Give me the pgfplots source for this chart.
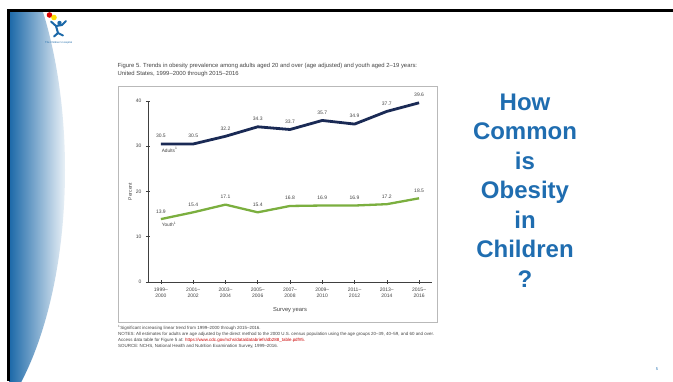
\documentclass[border=0pt]{standalone}
\usepackage{pgfplots}
\pgfplotsset{compat=1.18}
\usepackage{fontspec}
\setmainfont{Liberation Sans}
\definecolor{navy}{HTML}{1A2A55}
\definecolor{grn}{HTML}{7BAF3F}
\definecolor{ttl}{HTML}{1F6DB0}
\definecolor{gblue}{HTML}{1B68A8}
\definecolor{txt}{HTML}{444444}
\begin{document}
\begin{tikzpicture}[x=1pt,y=1pt]
\useasboundingbox (0,0) rectangle (673,381);
\fill[white] (0,0) rectangle (673,381);
% left gradient shape
\begin{scope}
\clip (9,0) rectangle (673,369);
\clip (-60,211) ellipse [x radius=125, y radius=279];
\shade[left color=gblue, right color=gblue!8] (9,0) rectangle (66,369);
\end{scope}
% black border
\fill[black] (7,369) rectangle (673,372);
\fill[black] (7,0) rectangle (9.5,372);
% logo
\fill[red!85!black] (49.5,366) circle (2.8);
\fill[yellow!80!orange] (54,363.5) circle (2.8);
\fill[gblue] (59.5,358) circle (2.2);
\draw[gblue, line width=2pt, line cap=round] (51,359.5) -- (56,355) -- (62,356) -- (66,360);
\draw[gblue, line width=2pt, line cap=round] (56,355) -- (58,348) -- (54,344.5);
\draw[gblue, line width=2pt, line cap=round] (58,348) -- (63,345.5);
\node[font=\fontsize{2.6}{3}\selectfont, text=gblue, anchor=west, inner sep=0] at (45,338) {The Children's Hospital};
% chart frame
\draw[gray!55, line width=0.6pt] (118,295) rectangle (437,59);
% figure title
\node[font=\fontsize{5.9}{7}\selectfont, text=txt, anchor=base west, inner sep=0] at (117.5,313) {Figure 5. Trends in obesity prevalence among adults aged 20 and over (age adjusted) and youth aged 2--19 years:};
\node[font=\fontsize{5.9}{7}\selectfont, text=txt, anchor=base west, inner sep=0] at (117.5,305) {United States, 1999--2000 through 2015--2016};
% footnotes
\node[font=\fontsize{4.45}{5}\selectfont, text=txt, anchor=base west, inner sep=0] at (118,51.5) {\textsuperscript{1}Significant increasing linear trend from 1999--2000 through 2015--2016.};
\node[font=\fontsize{4.45}{5}\selectfont, text=txt, anchor=base west, inner sep=0] at (118,45.5) {NOTES: All estimates for adults are age adjusted by the direct method to the 2000 U.S. census population using the age groups 20--39, 40--59, and 60 and over.};
\node[font=\fontsize{4.45}{5}\selectfont, text=txt, anchor=base west, inner sep=0] at (118,39.5) {Access data table for Figure 5 at: \textcolor{red!80!black}{https://www.cdc.gov/nchs/data/databriefs/db288\_table.pdf\#5.}};
\node[font=\fontsize{4.45}{5}\selectfont, text=txt, anchor=base west, inner sep=0] at (118,33.5) {SOURCE: NCHS, National Health and Nutrition Examination Survey, 1999--2016.};
% right title
\node[font=\fontsize{24}{29.5}\selectfont\bfseries, text=ttl, align=center, text width=150pt] at (525,190.5) {How\\Common\\is\\Obesity\\in\\Children\\?};
\node[font=\fontsize{4}{5}\selectfont, text=ttl] at (657,12) {5};
% the chart
\begin{axis}[
  at={(148pt,99pt)}, anchor=south west,
  scale only axis, width=284pt, height=181pt,
  xmin=-0.4, xmax=8.4, ymin=0, ymax=40,
  axis x line*=bottom, axis y line*=left,
  axis line style={black!75, line width=0.8pt},
  xtick={0,1,2,3,4,5,6,7,8},
  xticklabels={1999--\\2000,2001--\\2002,2003--\\2004,2005--\\2006,2007--\\2008,2009--\\2010,2011--\\2012,2013--\\2014,2015--\\2016},
  ytick={0,10,20,30,40},
  tick align=center, major tick length=4pt,
  tick style={black!75, line width=0.6pt},
  /pgf/number format/assume math mode=true,
  ticklabel style={font=\fontsize{5}{6.5}\selectfont, text=txt},
  xticklabel style={align=center},
  yticklabel style={xshift=-1pt},
  xlabel={Survey years},
  xlabel style={at={(axis description cs:0.5,-0.155)}, anchor=center, font=\fontsize{5.8}{7}\selectfont, text=txt},
  ylabel={Percent},
  ylabel style={at={(axis description cs:-0.063,0.5)}, anchor=center, font=\fontsize{5}{6}\selectfont, text=txt},
  clip=false,
  nodes near coords={\pgfmathprintnumber[fixed,fixed zerofill,precision=1]{\pgfplotspointmeta}},
  nodes near coords style={font=\fontsize{5}{6}\selectfont, text=txt, anchor=south, yshift=1.5pt},
]
\addplot[navy, line width=2.8pt, line join=round, mark=none] coordinates {
 (0,30.5) (1,30.5) (2,32.2) (3,34.3) (4,33.7) (5,35.7) (6,34.9) (7,37.7) (8,39.6)};
\addplot[grn, line width=2.3pt, line join=round, mark=none] coordinates {
 (0,13.9) (1,15.4) (2,17.1) (3,15.4) (4,16.8) (5,16.9) (6,16.9) (7,17.2) (8,18.5)};
\node[font=\fontsize{4.8}{5}\selectfont, text=txt, anchor=west, inner sep=0] at (axis cs:0.02,29.2) {Adults\textsuperscript{1}};
\node[font=\fontsize{4.8}{5}\selectfont, text=txt, anchor=west, inner sep=0] at (axis cs:0.02,12.7) {Youth\textsuperscript{1}};
\end{axis}
\end{tikzpicture}
\end{document}
